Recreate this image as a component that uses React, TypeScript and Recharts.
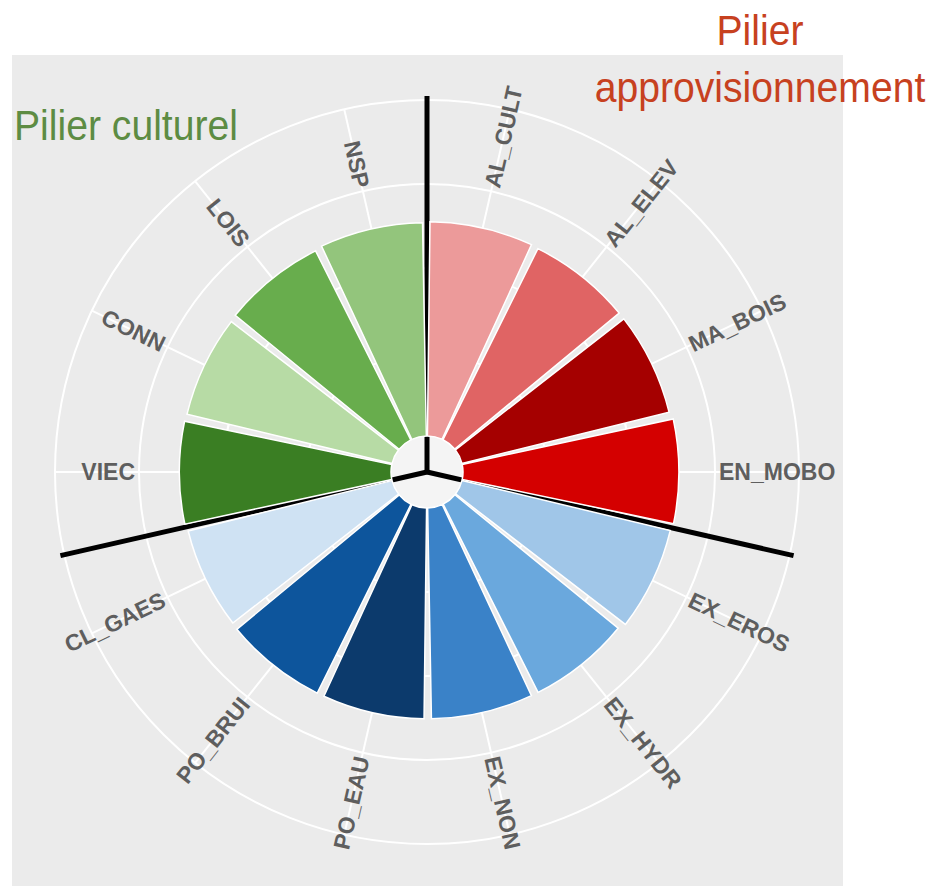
import React from 'react';
import { RadialBarChart, RadialBar, PolarAngleAxis, PolarRadiusAxis, PolarGrid, Cell, Customized } from 'recharts';

// categories clockwise from 12 o'clock
const categories = ['AL_CULT', 'AL_ELEV', 'MA_BOIS', 'EN_MOBO', 'EX_EROS', 'EX_HYDR', 'EX_NON', 'PO_EAU', 'PO_BRUI', 'CL_GAES', 'VIEC', 'CONN', 'LOIS', 'NSP'];
const scores = [2.55, 2.54, 2.54, 2.57, 2.55, 2.51, 2.51, 2.51, 2.51, 2.5, 2.52, 2.51, 2.52, 2.54];
// number of categories per pillar, in the same order
const pillarSizes = [4, 6, 4];
const radiusTicks = [0, 1, 2, 3, 4];

const barColors = [
  '#ec9a9a', '#e06464', '#a50000', '#d40000',
  '#a0c6e8', '#6aa8dd', '#3a82c8', '#0c3a6c', '#0d559c', '#cfe2f3',
  '#3a7e23', '#b7dba5', '#68ad4d', '#93c57c',
];

const data = categories.map((name, i) => ({ name, score: scores[i] }));

const W = 933;
const H = 886;
const CX = 427;
const CY = 472;
const R_IN = 36;
const R_OUT = 372;
const LABEL_R = 292;
const RAD = Math.PI / 180;
const STEP = 360 / categories.length;

// radial grid lines through the middle of each category
const gridAngles = categories.map((_, i) => 90 - (i + 0.5) * STEP);

const AngleTick = (props: any) => {
  const { payload } = props;
  // axis ticks sit on band edges; move labels to the band middle
  const a = payload.coordinate + STEP / 2;
  const x = CX + LABEL_R * Math.cos(a * RAD);
  const y = CY - LABEL_R * Math.sin(a * RAD);
  const theta = (((90 - a) % 360) + 360) % 360;
  const right = theta < 180;
  const rot = right ? theta - 90 : theta - 270;
  return (
    <text
      x={x}
      y={y}
      transform={`rotate(${rot} ${x} ${y})`}
      textAnchor={right ? 'start' : 'end'}
      dominantBaseline="central"
      fill="#5e5e5e"
      fontSize={23}
      fontWeight="bold"
      fontFamily="'Liberation Sans', Arial, sans-serif"
    >
      {payload.value}
    </text>
  );
};

const Hole = () => <circle cx={CX} cy={CY} r={R_IN} fill="#f4f4f4" />;

const Separators = () => {
  const bounds: number[] = [];
  let acc = 0;
  pillarSizes.forEach((n) => {
    bounds.push(acc);
    acc += n;
  });
  return (
    <g>
      {bounds.map((b) => {
        const t = b * STEP;
        return (
          <line
            key={b}
            x1={CX}
            y1={CY}
            x2={CX + 376 * Math.sin(t * RAD)}
            y2={CY - 376 * Math.cos(t * RAD)}
            stroke="#000"
            strokeWidth={5}
          />
        );
      })}
    </g>
  );
};

export default function App() {
  return (
    <div style={{ position: 'absolute', left: 0, top: 0, width: W, height: H, background: '#fff', overflow: 'hidden' }}>
      <div style={{ position: 'absolute', left: 12, top: 55, width: 831, height: 831, background: '#ebebeb' }} />
      <div style={{ position: 'absolute', left: 0, top: 0 }}>
        <RadialBarChart
          width={W}
          height={H}
          data={data}
          layout="centric"
          cx={CX}
          cy={CY}
          innerRadius={R_IN}
          outerRadius={R_OUT}
          startAngle={90 - STEP}
          endAngle={-270 - STEP}
          barCategoryGap="4%"
          margin={{ top: 0, right: 0, bottom: 0, left: 0 }}
        >
          <PolarGrid gridType="circle" stroke="#ffffff" strokeWidth={2} polarAngles={gridAngles} />
          <PolarAngleAxis type="category" dataKey="name" tick={<AngleTick />} tickLine={false} axisLine={false} />
          <PolarRadiusAxis type="number" domain={[0, 4]} ticks={radiusTicks} tick={false} axisLine={false} />
          <Customized component={Hole} />
          <RadialBar dataKey="score" stroke="#ffffff" strokeWidth={1.5} isAnimationActive={false}>
            {data.map((d, i) => (
              <Cell key={d.name} fill={barColors[i]} />
            ))}
          </RadialBar>
          <Customized component={Separators} />
        </RadialBarChart>
      </div>
      <div
        style={{
          position: 'absolute', left: 14, top: 104, fontSize: 43, lineHeight: 1,
          fontFamily: "'Liberation Sans', Arial, sans-serif", color: '#5d8c43',
          transform: 'scaleX(0.91)', transformOrigin: 'left top', whiteSpace: 'nowrap',
        }}
      >
        Pilier culturel
      </div>
      <div
        style={{
          position: 'absolute', left: 560, top: 2, width: 400, fontSize: 43, lineHeight: '57px',
          fontFamily: "'Liberation Sans', Arial, sans-serif", color: '#c7411f', textAlign: 'center',
          transform: 'scaleX(0.91)', transformOrigin: 'center top',
        }}
      >
        Pilier
        <br />
        approvisionnement
      </div>
    </div>
  );
}
